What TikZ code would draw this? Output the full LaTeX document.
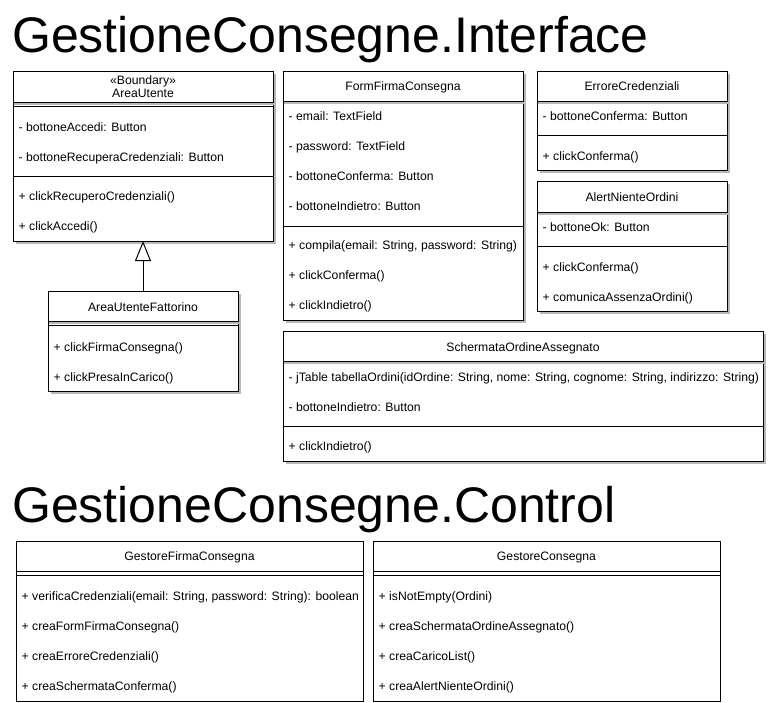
\documentclass[tikz,border=0pt]{standalone}
\usepackage{fontspec}
\setmainfont{Liberation Sans}
\usetikzlibrary{arrows.meta}
\tikzset{
  boxst/.style={draw=black, fill=white, line width=1pt, inner sep=0pt, outer sep=0pt, anchor=north west},
  shadowst/.style={fill=black!28},
  rowst/.style={anchor=base west, inner sep=0pt, font=\fontsize{12.2}{14}\selectfont},
  hdrst/.style={anchor=base, inner sep=0pt, font=\fontsize{12.2}{14}\selectfont},
  titlest/.style={anchor=base west, inner sep=0pt, font=\fontsize{50}{60}\selectfont},
  sepline/.style={line width=1pt},
  hshadow/.style={draw=black!28, line width=2pt},
  genarrow/.style={-{Triangle[open, length=20pt, width=16pt]}, line width=1pt},
}
\newcommand{\umlbox}[5]{%
  \fill[shadowst] ({#2+3},{#3+3}) rectangle ({#4+3},{#5+3});
  \node[boxst, minimum width={(#4)-(#2)}, minimum height={(#5)-(#3)}] (#1) at (#2,#3) {};
}
\newcommand{\umlboxns}[5]{%
  \node[boxst, minimum width={(#4)-(#2)}, minimum height={(#5)-(#3)}] (#1) at (#2,#3) {};
}
\newcommand{\hl}[3]{\draw[sepline] (#1,#3) -- (#2,#3);}
\newcommand{\hsh}[3]{\draw[hshadow] ({#1+1},{#3+2}) -- ({#2+3},{#3+2});}
\newcommand{\rowtxt}[4]{\node[rowst] (#1) at ({#2+1.5},#3) {#4};}
\newcommand{\hdrtxt}[4]{\node[hdrst] (#1) at (#2,#3) {#4};}
\begin{document}
\begin{tikzpicture}[x=1pt,y=-1pt]
\useasboundingbox (0,0) rectangle (768,702);

% Titles
\node[titlest] (t1) at (12,52) {GestioneConsegne.Interface};
\node[titlest] (t2) at (12,522) {GestioneConsegne.Control};

% AreaUtente
\umlbox{au}{13}{71}{273}{241}
\hsh{13}{273}{102}
\hl{13}{273}{102}
\hl{13}{273}{106}
\hdrtxt{au-s}{143}{84.5}{«Boundary»}
\hdrtxt{au-h}{143}{97.5}{AreaUtente}
\rowtxt{au-a1}{17}{131.5}{- bottoneAccedi: Button}
\rowtxt{au-a2}{17}{161.5}{- bottoneRecuperaCredenziali: Button}
\hl{13}{273}{176}
\rowtxt{au-m1}{17}{200.5}{+ clickRecuperoCredenziali()}
\rowtxt{au-m2}{17}{230.5}{+ clickAccedi()}

% AreaUtenteFattorino
\umlbox{auf}{48}{291}{238}{391}
\hsh{48}{238}{321}
\hl{48}{238}{321}
\hl{48}{238}{325}
\hdrtxt{auf-h}{143}{311.5}{AreaUtenteFattorino}
\rowtxt{auf-m1}{52}{351.5}{+ clickFirmaConsegna()}
\rowtxt{auf-m2}{52}{381.5}{+ clickPresaInCarico()}

% generalization
\draw[genarrow] (auf.north) -- (au.south);

% FormFirmaConsegna
\umlbox{ffc}{283}{71}{523}{320}
\hsh{283}{523}{101}
\hl{283}{523}{101}
\hdrtxt{ffc-h}{403}{90.5}{FormFirmaConsegna}
\rowtxt{ffc-a1}{287}{120.5}{- email: TextField}
\rowtxt{ffc-a2}{287}{150.5}{- password: TextField}
\rowtxt{ffc-a3}{287}{180.5}{- bottoneConferma: Button}
\rowtxt{ffc-a4}{287}{210.5}{- bottoneIndietro: Button}
\hl{283}{523}{226}
\rowtxt{ffc-m1}{287}{249.5}{+ compila(email: String, password: String)}
\rowtxt{ffc-m2}{287}{279.5}{+ clickConferma()}
\rowtxt{ffc-m3}{287}{309.5}{+ clickIndietro()}

% ErroreCredenziali
\umlbox{ec}{537}{71}{727}{170}
\hsh{537}{727}{101}
\hl{537}{727}{101}
\hdrtxt{ec-h}{632}{90.5}{ErroreCredenziali}
\rowtxt{ec-a1}{541}{120.5}{- bottoneConferma: Button}
\hl{537}{727}{135.5}
\rowtxt{ec-m1}{541}{160}{+ clickConferma()}

% AlertNienteOrdini
\umlbox{ano}{537}{181}{727}{311}
\hsh{537}{727}{212}
\hl{537}{727}{212}
\hdrtxt{ano-h}{632}{201.5}{AlertNienteOrdini}
\rowtxt{ano-a1}{541}{231.5}{- bottoneOk: Button}
\hl{537}{727}{246.5}
\rowtxt{ano-m1}{541}{271}{+ clickConferma()}
\rowtxt{ano-m2}{541}{301}{+ comunicaAssenzaOrdini()}

% SchermataOrdineAssegnato
\umlbox{soa}{283}{331}{763}{461}
\hsh{283}{763}{361}
\hl{283}{763}{361}
\hdrtxt{soa-h}{523}{351.5}{SchermataOrdineAssegnato}
\rowtxt{soa-a1}{287}{381.5}{- jTable tabellaOrdini(idOrdine: String, nome: String, cognome: String, indirizzo: String)}
\rowtxt{soa-a2}{287}{411.5}{- bottoneIndietro: Button}
\hl{283}{763}{426}
\rowtxt{soa-m1}{287}{450.5}{+ clickIndietro()}

% GestoreFirmaConsegna
\umlboxns{gfc}{16}{541}{363}{701}
\hl{16}{363}{571}
\hl{16}{363}{575}
\hdrtxt{gfc-h}{189.5}{560.5}{GestoreFirmaConsegna}
\rowtxt{gfc-m1}{20}{600.5}{+ verificaCredenziali(email: String, password: String): boolean}
\rowtxt{gfc-m2}{20}{630.5}{+ creaFormFirmaConsegna()}
\rowtxt{gfc-m3}{20}{660.5}{+ creaErroreCredenziali()}
\rowtxt{gfc-m4}{20}{690.5}{+ creaSchermataConferma()}

% GestoreConsegna
\umlboxns{gc}{373}{541}{720}{701}
\hl{373}{720}{571}
\hl{373}{720}{575}
\hdrtxt{gc-h}{546.5}{560.5}{GestoreConsegna}
\rowtxt{gc-m1}{377}{600.5}{+ isNotEmpty(Ordini)}
\rowtxt{gc-m2}{377}{630.5}{+ creaSchermataOrdineAssegnato()}
\rowtxt{gc-m3}{377}{660.5}{+ creaCaricoList()}
\rowtxt{gc-m4}{377}{690.5}{+ creaAlertNienteOrdini()}
\end{tikzpicture}
\end{document}
